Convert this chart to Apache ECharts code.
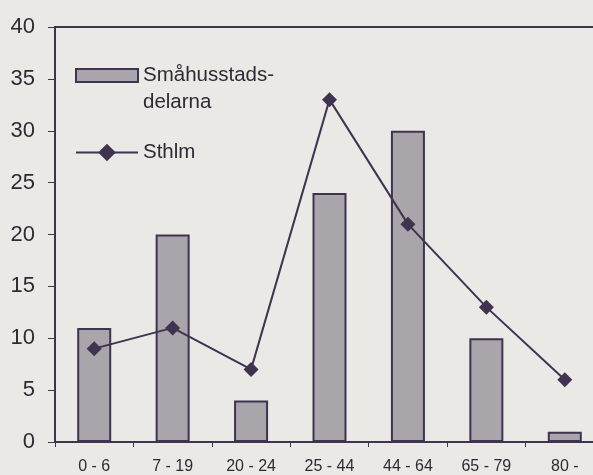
<!DOCTYPE html>
<html>
<head>
<meta charset="utf-8">
<script src="https://cdn.jsdelivr.net/npm/echarts@6/dist/echarts.min.js"></script>
<style>
  html, body { margin: 0; padding: 0; background: #ebe9e6; }
  #chart { width: 593px; height: 475px; }
</style>
</head>
<body>
<div id="chart"></div>
<script>
// åldersgrupper
const categories = ['0 - 6', '7 - 19', '20 - 24', '25 - 44', '44 - 64', '65 - 79', '80 -'];
const smahus = [11, 20, 4, 24, 30, 10, 1];
const sthlm = [9, 11, 7, 33, 21, 13, 6];
const yTicks = [0, 5, 10, 15, 20, 25, 30, 35, 40];

const dark = '#3f3350';
const textCol = '#2e2a33';
const font = 'Liberation Sans, Arial, sans-serif';

const chart = echarts.init(document.getElementById('chart'), null, { renderer: 'canvas' });
chart.setOption({
  backgroundColor: '#ebe9e6',
  animation: false,
  grid: {
    left: 55,
    width: 549,
    top: 27,
    bottom: 33,
    outerBoundsMode: 'none',
    show: true,
    borderColor: dark,
    borderWidth: 2
  },
  legend: [
    {
      // staplar, första raden i höjd med rutan
      left: 70,
      top: 30,
      itemWidth: 62,
      itemHeight: 13,
      icon: 'rect',
      textStyle: {
        color: textCol,
        fontSize: 20.5,
        fontFamily: font,
        lineHeight: 27
      },
      formatter: () => ' \nSmåhusstads-\ndelarna',
      data: ['Småhusstadsdelarna']
    },
    {
      // linje
      left: 70,
      top: 134,
      itemWidth: 62,
      itemHeight: 22,
      textStyle: {
        color: textCol,
        fontSize: 20.5,
        fontFamily: font,
        lineHeight: 27
      },
      data: ['Sthlm']
    }
  ],
  xAxis: {
    type: 'category',
    data: categories,
    axisLine: { lineStyle: { color: dark, width: 2 } },
    axisTick: { show: true, length: 5, lineStyle: { color: dark } },
    axisLabel: {
      color: textCol,
      fontSize: 16,
      margin: 17,
      fontFamily: font
    }
  },
  yAxis: {
    type: 'value',
    min: yTicks[0],
    max: yTicks[yTicks.length - 1],
    interval: 5,
    axisLine: { show: true, lineStyle: { color: dark, width: 2 } },
    axisTick: { show: true, length: 7, lineStyle: { color: dark } },
    splitLine: { show: false },
    axisLabel: {
      color: textCol,
      fontSize: 22,
      margin: 20,
      fontFamily: font
    }
  },
  series: [
    {
      name: 'Småhusstadsdelarna',
      type: 'bar',
      data: smahus,
      barWidth: 34,
      itemStyle: {
        color: '#a9a5aa',
        borderColor: dark,
        borderWidth: 2
      }
    },
    {
      name: 'Sthlm',
      type: 'line',
      data: sthlm,
      symbol: 'diamond',
      symbolSize: 15,
      lineStyle: { color: dark, width: 2 },
      itemStyle: { color: dark }
    }
  ]
});
</script>
</body>
</html>
